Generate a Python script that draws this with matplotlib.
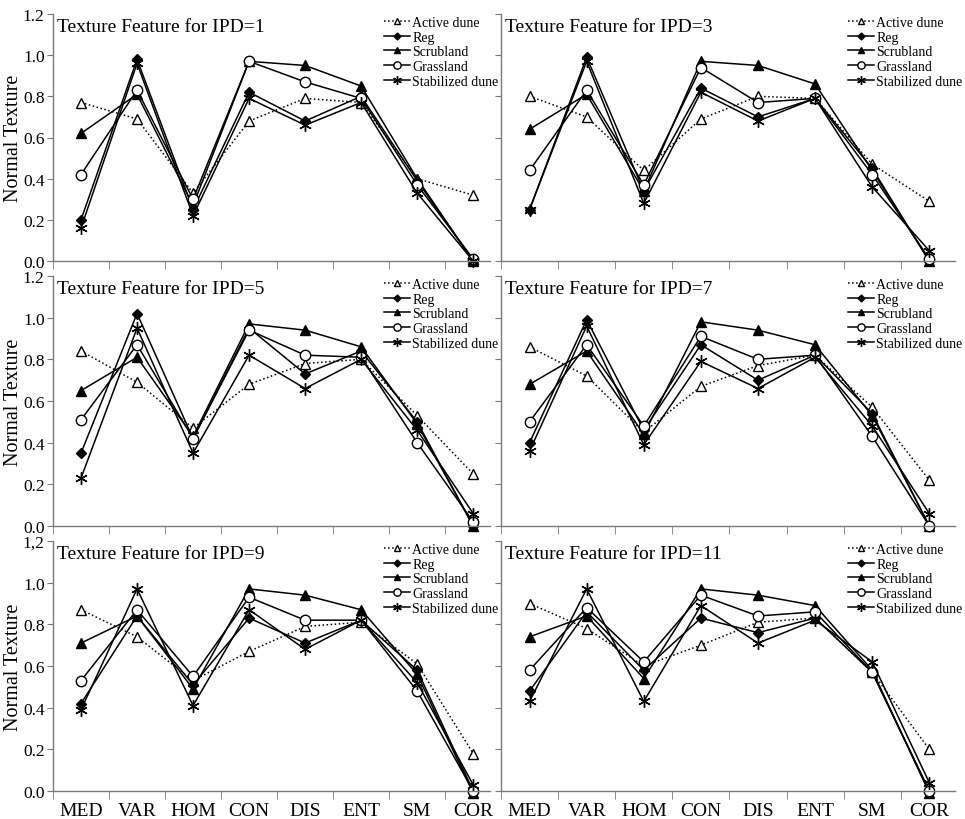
import matplotlib.pyplot as plt
import numpy as np

features = ['MED', 'VAR', 'HOM', 'CON', 'DIS', 'ENT', 'SM', 'COR']
ipd = [1, 3, 5, 7, 9, 11]

# one row per IPD panel, columns follow features
active_dune = [[0.77, 0.69, 0.33, 0.68, 0.79, 0.77, 0.40, 0.32],
               [0.80, 0.70, 0.44, 0.69, 0.80, 0.79, 0.47, 0.29],
               [0.84, 0.69, 0.47, 0.68, 0.78, 0.80, 0.53, 0.25],
               [0.86, 0.72, 0.45, 0.67, 0.77, 0.82, 0.57, 0.22],
               [0.87, 0.74, 0.53, 0.67, 0.79, 0.81, 0.61, 0.18],
               [0.90, 0.78, 0.60, 0.70, 0.81, 0.83, 0.57, 0.20]]
reg = [[0.20, 0.98, 0.25, 0.82, 0.68, 0.80, 0.39, 0.00],
       [0.25, 0.99, 0.34, 0.84, 0.70, 0.79, 0.45, 0.00],
       [0.35, 1.02, 0.42, 0.95, 0.73, 0.84, 0.50, 0.00],
       [0.40, 0.99, 0.46, 0.87, 0.70, 0.82, 0.54, 0.00],
       [0.42, 0.84, 0.51, 0.83, 0.71, 0.82, 0.58, 0.00],
       [0.48, 0.86, 0.58, 0.83, 0.76, 0.83, 0.57, 0.00]]
scrubland = [[0.62, 0.81, 0.27, 0.97, 0.95, 0.85, 0.40, 0.00],
             [0.64, 0.81, 0.34, 0.97, 0.95, 0.86, 0.44, 0.00],
             [0.65, 0.81, 0.43, 0.97, 0.94, 0.86, 0.49, 0.00],
             [0.68, 0.84, 0.44, 0.98, 0.94, 0.87, 0.53, 0.00],
             [0.71, 0.84, 0.49, 0.97, 0.94, 0.87, 0.56, -0.01],
             [0.74, 0.84, 0.54, 0.97, 0.94, 0.89, 0.58, -0.01]]
grassland = [[0.42, 0.83, 0.30, 0.97, 0.87, 0.79, 0.37, 0.01],
             [0.44, 0.83, 0.37, 0.94, 0.77, 0.79, 0.42, 0.01],
             [0.51, 0.87, 0.42, 0.94, 0.82, 0.81, 0.40, 0.02],
             [0.50, 0.87, 0.48, 0.91, 0.80, 0.82, 0.43, 0.00],
             [0.53, 0.87, 0.55, 0.93, 0.82, 0.82, 0.48, 0.00],
             [0.58, 0.88, 0.62, 0.94, 0.84, 0.86, 0.57, 0.00]]
stabilized_dune = [[0.16, 0.96, 0.22, 0.79, 0.66, 0.77, 0.33, 0.00],
                   [0.25, 0.97, 0.28, 0.82, 0.68, 0.79, 0.36, 0.05],
                   [0.23, 0.95, 0.35, 0.82, 0.66, 0.80, 0.46, 0.06],
                   [0.36, 0.96, 0.39, 0.79, 0.66, 0.81, 0.48, 0.06],
                   [0.39, 0.97, 0.41, 0.87, 0.68, 0.82, 0.52, 0.03],
                   [0.43, 0.97, 0.43, 0.89, 0.71, 0.82, 0.62, 0.04]]

series = [('Active dune', active_dune, '^', ':', 'white'),
          ('Reg', reg, 'D', '-', 'black'),
          ('Scrubland', scrubland, '^', '-', 'black'),
          ('Grassland', grassland, 'o', '-', 'white'),
          ('Stabilized dune', stabilized_dune, (6, 2, 0), '-', 'black')]
msizes = {'Active dune': 7, 'Reg': 5, 'Scrubland': 7, 'Grassland': 7.5, 'Stabilized dune': 9}

plt.rcParams['font.family'] = ['Liberation Serif', 'DejaVu Serif']

W, H = 965, 820
fig = plt.figure(figsize=(W / 100, H / 100), dpi=100)

# panel boxes in pixels: left, top (1.2), right end, bottom (0.0)
cols = [(53, 490), (501, 955)]
rows = [(15, 262), (277, 527), (542, 792)]
x = np.arange(len(features))
spine_col = '#7a7a7a'

for k in range(6):
    r, c = k // 2, k % 2
    x0, x1 = cols[c]
    y0, y1 = rows[r]
    ax = fig.add_axes([x0 / W, 1 - y1 / H, (x1 - x0) / W, (y1 - y0) / H])
    for name, vals, mk, ls, fc in series:
        ax.plot(x, vals[k], color='black', lw=1.1, ls=ls, marker=mk,
                ms=msizes[name], mfc=fc, mec='black', mew=1.0, label=name,
                clip_on=False)
    ax.set_ylim(0, 1.2)
    ax.set_xlim(-0.5, 7.3 if c == 0 else 7.45)
    ax.set_yticks(np.arange(0, 1.21, 0.2))
    ax.set_xticks(x)
    ax.set_xticks(np.arange(-0.5, 7, 1.0), minor=True)
    ax.tick_params(axis='x', which='major', length=0, labelsize=14, pad=8)
    ax.tick_params(axis='x', which='minor', length=6, direction='out', color=spine_col)
    ax.tick_params(axis='y', length=4, direction='out', color=spine_col, labelsize=12.5, pad=2)
    if r < 2:
        ax.set_xticklabels([])
    else:
        ax.set_xticklabels(features)
    if c == 0:
        labels = ['%.1f' % v for v in np.arange(0, 1.21, 0.2)]
        if r == 2:
            labels[-1] = '1,2'
        ax.set_yticklabels(labels)
        ax.set_ylabel('Normal Texture', fontsize=14.5)
        ax.yaxis.set_label_coords(-0.069, 0.5)
    else:
        ax.set_yticklabels([])
    for s in ['top', 'right']:
        ax.spines[s].set_visible(False)
    for s in ['left', 'bottom']:
        ax.spines[s].set_color(spine_col)
        ax.spines[s].set_linewidth(1.0)
    ax.text(0.009, 0.95, 'Texture Feature for IPD=%d' % ipd[k], transform=ax.transAxes,
            fontsize=14, va='center', ha='left')
    lx = 384 if c == 0 else 848
    ax.legend(loc='upper left', bbox_to_anchor=(lx / W, 1 - (y0 + 2) / H),
              bbox_transform=fig.transFigure, frameon=False, fontsize=10,
              handlelength=1.9, handletextpad=0.15, labelspacing=0.12,
              borderpad=0, borderaxespad=0, markerscale=0.7)

fig.savefig('out.png', dpi=100)
